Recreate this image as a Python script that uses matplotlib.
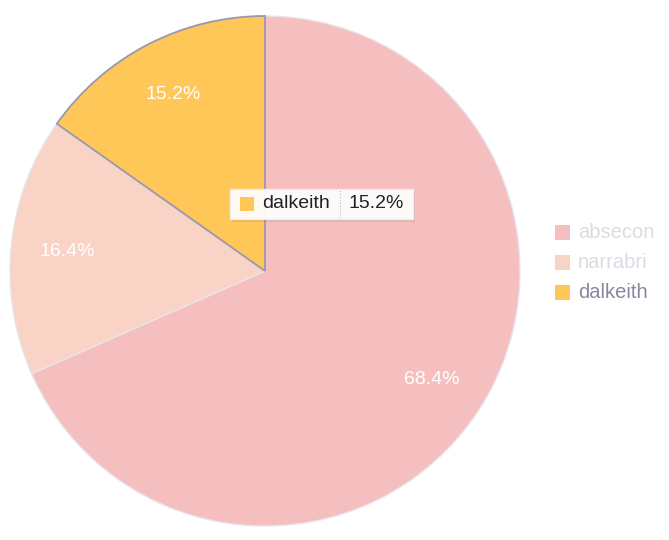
import matplotlib.pyplot as plt
from matplotlib.patches import FancyBboxPatch, Rectangle

# data
labels = ['absecon', 'narrabri', 'dalkeith']
values = [68.4, 16.4, 15.2]
colors = ['#f5bfc0', '#f9d4c6', '#ffc658']

plt.rcParams['font.family'] = ['Liberation Sans', 'DejaVu Sans']

fig = plt.figure(figsize=(6.69, 5.40), dpi=100)
ax = fig.add_axes([0, 0, 1, 1])
ax.set_xlim(0, 669)
ax.set_ylim(0, 540)
ax.set_aspect('equal')
ax.axis('off')

wedges, texts, autotexts = ax.pie(
    values, colors=colors, startangle=90, counterclock=False,
    center=(265, 269), radius=255, autopct='%.1f%%', pctdistance=0.78,
    wedgeprops=dict(edgecolor='#e8e4ea', linewidth=1),
    textprops=dict(color='white', fontsize=14))
ax.set_xlim(0, 669)
ax.set_ylim(0, 540)

# hovered slice
wedges[2].set_edgecolor('#9b97b0')
wedges[2].set_linewidth(1.3)
wedges[2].set_zorder(3)
for t in autotexts:
    t.set_zorder(4)

# legend
legend_y = [308, 278, 248]
text_colors = ['#dcdbe3', '#dcdbe3', '#8a85a0']
for lab, col, y, tc in zip(labels, colors, legend_y, text_colors):
    ax.add_patch(Rectangle((555, y - 7.5), 15, 15, facecolor=col, edgecolor='none'))
    ax.text(578, y, lab, color=tc, fontsize=14.5, va='center', ha='left')

# tooltip
shadow = FancyBboxPatch((232, 318), 183, 30, boxstyle='square,pad=0',
                        facecolor='black', alpha=0.08, edgecolor='none', zorder=5)
ax.add_patch(shadow)
box = FancyBboxPatch((230, 321), 183, 30, boxstyle='square,pad=0',
                     facecolor='white', alpha=0.93, edgecolor='#eeeeee', zorder=6)
ax.add_patch(box)
ax.add_patch(Rectangle((240, 329), 14, 14, facecolor=colors[2], edgecolor='none', zorder=7))
ax.text(262, 336, labels[2], fontsize=14, color='#222222', va='center', zorder=7)
ax.plot([340, 340], [322, 350], color='#bbbbbb', linestyle=':', linewidth=0.8, zorder=7)
ax.text(349, 336, '%.1f%%' % values[2], fontsize=14, color='#222222', va='center', zorder=7)

fig.savefig('out.png', dpi=100)
